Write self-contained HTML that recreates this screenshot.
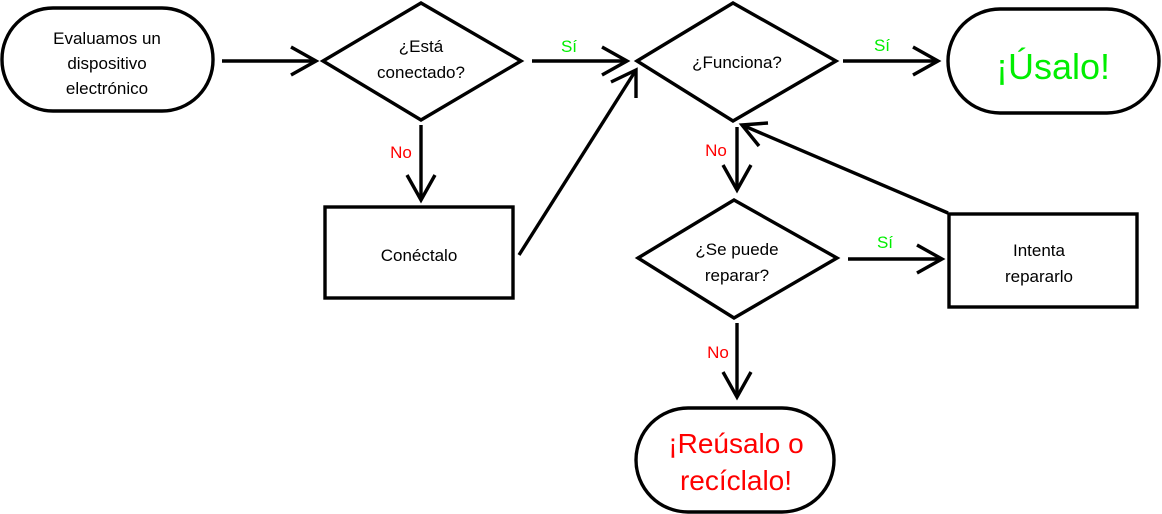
<!DOCTYPE html>
<html><head><meta charset="utf-8"><style>
html,body{margin:0;padding:0;background:#fff;width:1162px;height:514px;overflow:hidden}
text{font-family:"Liberation Sans",Arial,sans-serif}
</style></head><body>
<svg width="1162" height="514" viewBox="0 0 1162 514" xmlns="http://www.w3.org/2000/svg">
<g fill="none" stroke="#000" stroke-width="3.4">
<rect x="2" y="8" width="211" height="103" rx="51" ry="51"/>
<polygon points="323,61 421,3 521,61 421,120"/>
<rect x="325" y="207" width="188" height="91"/>
<polygon points="637,61 733,3 836,61 733,121"/>
<rect x="948" y="9" width="211" height="104" rx="52" ry="52"/>
<polygon points="638,258 734,200 837,258 734,318"/>
<rect x="949" y="214" width="188" height="93"/>
<rect x="636" y="408" width="198" height="104" rx="52" ry="52"/>
<line x1="222" y1="61" x2="316" y2="61"/><polyline points="291,47 316,61 291,75"/>
<line x1="532" y1="61" x2="627" y2="61"/><polyline points="602,47 627,61 602,75"/>
<line x1="421" y1="125" x2="421" y2="200"/><polyline points="407,175 421,200 435,175"/>
<line x1="519" y1="255" x2="636" y2="70"/><polyline points="611,82 636,70 636,98"/>
<line x1="843" y1="61" x2="938" y2="61"/><polyline points="913,47 938,61 913,75"/>
<line x1="737" y1="127" x2="737" y2="190"/><polyline points="723,165 737,190 751,165"/>
<line x1="948" y1="213" x2="742" y2="125"/><polyline points="768,123 742,125 759,146"/>
<line x1="848" y1="259" x2="942" y2="259"/><polyline points="917,245 942,259 917,273"/>
<line x1="737" y1="323" x2="737" y2="397"/><polyline points="723,372 737,397 751,372"/>
</g>
<g font-size="17" fill="#000" text-anchor="middle">
<text x="107" y="44">Evaluamos un</text>
<text x="107" y="69">dispositivo</text>
<text x="107" y="94">electrónico</text>
<text x="421" y="52">¿Está</text>
<text x="421" y="78">conectado?</text>
<text x="419" y="261">Conéctalo</text>
<text x="737" y="68">¿Funciona?</text>
<text x="737" y="255">¿Se puede</text>
<text x="737" y="281">reparar?</text>
<text x="1039" y="256">Intenta</text>
<text x="1039" y="282">repararlo</text>
</g>
<g font-size="17" text-anchor="middle">
<text x="569" y="52" fill="#00ee00">Sí</text>
<text x="882" y="51" fill="#00ee00">Sí</text>
<text x="885" y="248" fill="#00ee00">Sí</text>
<text x="401" y="158" fill="#ff0000">No</text>
<text x="716" y="156" fill="#ff0000">No</text>
<text x="718" y="358" fill="#ff0000">No</text>
</g>
<text x="1053" y="79" font-size="36" fill="#00ee00" text-anchor="middle">¡Úsalo!</text>
<text x="736" y="453" font-size="28" fill="#ff0000" text-anchor="middle">¡Reúsalo o</text>
<text x="736" y="490" font-size="28" fill="#ff0000" text-anchor="middle">recíclalo!</text>
</svg>
</body></html>
